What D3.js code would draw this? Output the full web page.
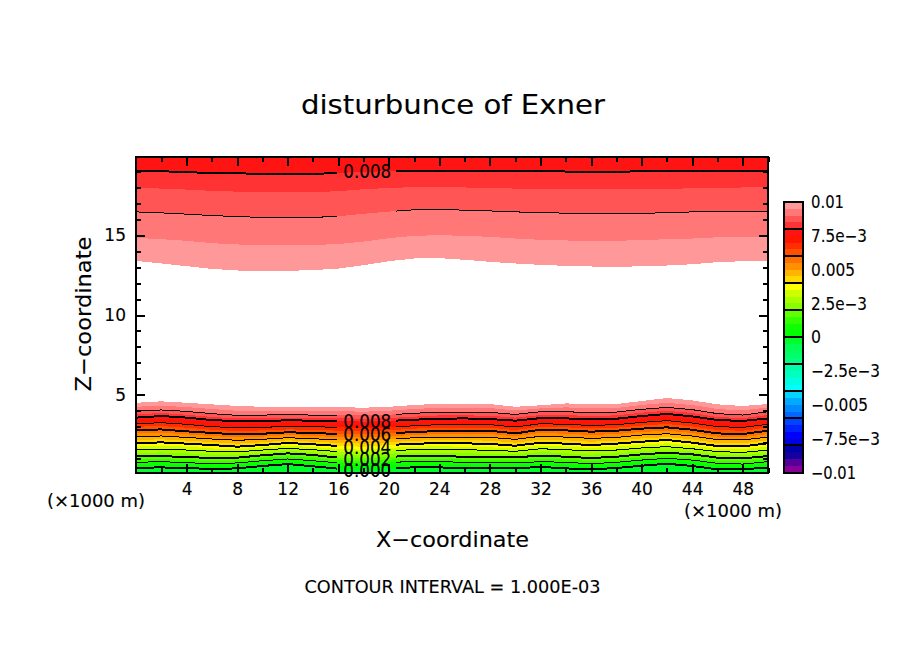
<!DOCTYPE html>
<html>
<head>
<meta charset="utf-8">
<script src="https://cdn.jsdelivr.net/npm/d3@7"></script>
<style>
  body { margin: 0; background: #fff; }
  text { font-family: "DejaVu Sans", sans-serif; fill: #000; stroke: #000; stroke-width: 0.12px; }
</style>
</head>
<body>
<div id="chart"></div>
<script>
// x positions (km) where the contours were read
const xKnots = [0,2,4,6,8,10,12,14,16,18,20,22,24,26,28,30,32,34,36,38,40,42,44,46,48,50];

// lower contours, height in km for each level, bottom to top
const low000 = [0.43,0.45,0.41,0.35,0.39,0.54,0.66,0.52,0.37,0.33,0.41,0.45,0.45,0.41,0.39,0.39,0.48,0.39,0.33,0.41,0.56,0.68,0.54,0.33,0.33,0.45];
const low005 = [0.60,0.62,0.58,0.52,0.56,0.71,0.81,0.71,0.54,0.50,0.58,0.62,0.62,0.58,0.56,0.56,0.64,0.58,0.50,0.58,0.73,0.85,0.73,0.52,0.50,0.62];
const low010 = [0.77,0.81,0.75,0.68,0.73,0.87,0.98,0.87,0.73,0.68,0.77,0.81,0.81,0.77,0.75,0.73,0.81,0.77,0.68,0.77,0.91,1.02,0.91,0.71,0.66,0.81];
const low015 = [0.96,0.98,0.91,0.85,0.89,1.04,1.14,1.04,0.89,0.85,0.94,0.98,0.98,0.94,0.91,0.89,1.00,0.94,0.85,0.94,1.08,1.19,1.08,0.87,0.83,0.98];
const low020 = [1.16,1.16,1.10,1.04,1.06,1.21,1.33,1.23,1.06,1.02,1.12,1.16,1.16,1.12,1.10,1.08,1.19,1.12,1.04,1.12,1.27,1.37,1.27,1.06,1.02,1.16];
const low025 = [1.35,1.39,1.33,1.25,1.23,1.37,1.48,1.39,1.25,1.21,1.31,1.37,1.37,1.33,1.31,1.27,1.42,1.33,1.25,1.33,1.46,1.56,1.44,1.25,1.21,1.35];
const low030 = [1.54,1.60,1.54,1.46,1.42,1.54,1.64,1.56,1.44,1.39,1.50,1.56,1.58,1.56,1.52,1.46,1.62,1.56,1.48,1.54,1.67,1.75,1.62,1.44,1.39,1.54];
const low035 = [1.75,1.81,1.75,1.64,1.58,1.71,1.81,1.73,1.60,1.56,1.67,1.75,1.77,1.75,1.71,1.64,1.81,1.75,1.67,1.75,1.87,1.96,1.81,1.60,1.58,1.75];
const low040 = [1.96,2.02,1.94,1.85,1.75,1.85,1.98,1.90,1.79,1.75,1.85,1.94,1.96,1.96,1.92,1.81,2.00,1.94,1.85,1.94,2.06,2.17,2.00,1.79,1.77,1.96];
const low045 = [2.17,2.21,2.13,2.04,1.94,2.02,2.15,2.06,1.98,1.94,2.02,2.13,2.15,2.15,2.13,2.00,2.19,2.15,2.06,2.13,2.27,2.35,2.21,1.98,1.96,2.15];
const low050 = [2.38,2.42,2.33,2.23,2.15,2.21,2.31,2.25,2.17,2.15,2.21,2.31,2.35,2.33,2.33,2.21,2.40,2.35,2.27,2.33,2.48,2.56,2.42,2.19,2.17,2.35];
const low055 = [2.58,2.63,2.52,2.42,2.33,2.38,2.48,2.42,2.35,2.33,2.40,2.48,2.54,2.52,2.54,2.40,2.61,2.56,2.48,2.54,2.67,2.75,2.61,2.38,2.35,2.54];
const low060 = [2.79,2.83,2.71,2.61,2.52,2.56,2.65,2.61,2.54,2.52,2.58,2.67,2.73,2.71,2.75,2.58,2.81,2.77,2.69,2.75,2.88,2.96,2.81,2.58,2.54,2.75];
const low065 = [3.00,3.04,2.94,2.81,2.73,2.77,2.83,2.81,2.75,2.73,2.77,2.88,2.94,2.92,2.94,2.79,3.00,2.96,2.90,2.94,3.08,3.17,3.02,2.79,2.75,2.96];
const low070 = [3.19,3.25,3.15,3.00,2.94,2.96,3.02,3.00,2.96,2.92,2.96,3.06,3.13,3.13,3.13,2.98,3.19,3.15,3.08,3.13,3.27,3.38,3.23,3.00,2.96,3.15];
const low075 = [3.38,3.46,3.36,3.21,3.13,3.17,3.21,3.19,3.17,3.13,3.17,3.25,3.32,3.32,3.32,3.19,3.38,3.34,3.29,3.32,3.46,3.59,3.44,3.21,3.17,3.34];
const low080 = [3.57,3.67,3.57,3.42,3.34,3.36,3.40,3.38,3.36,3.32,3.36,3.44,3.50,3.52,3.48,3.38,3.54,3.52,3.48,3.50,3.67,3.80,3.65,3.42,3.36,3.52];
const low085 = [3.77,3.86,3.75,3.61,3.52,3.54,3.57,3.54,3.54,3.50,3.54,3.63,3.71,3.71,3.69,3.57,3.73,3.73,3.67,3.71,3.88,4.00,3.86,3.61,3.54,3.73];
const low090 = [3.98,4.05,3.96,3.82,3.71,3.73,3.75,3.73,3.73,3.71,3.75,3.84,3.92,3.90,3.90,3.77,3.94,3.94,3.88,3.92,4.09,4.21,4.07,3.82,3.73,3.94];
const low095 = [4.25,4.32,4.23,4.11,4.00,4.00,4.00,4.00,3.98,3.94,4.00,4.11,4.19,4.15,4.17,4.02,4.15,4.21,4.15,4.17,4.36,4.50,4.36,4.11,4.02,4.21];
const low100 = [4.50,4.59,4.50,4.40,4.30,4.25,4.25,4.25,4.23,4.19,4.25,4.36,4.44,4.40,4.42,4.25,4.34,4.46,4.42,4.42,4.61,4.80,4.65,4.40,4.30,4.42];

// upper contours, values fall with height here
const up100 = [13.39,13.23,13.06,12.89,12.79,12.75,12.77,12.81,12.91,13.12,13.37,13.54,13.56,13.46,13.33,13.23,13.14,13.08,13.04,13.00,13.06,13.10,13.18,13.31,13.37,13.39];
const up095 = [14.83,14.75,14.65,14.50,14.42,14.37,14.37,14.39,14.44,14.60,14.81,14.96,15.00,14.96,14.90,14.79,14.71,14.67,14.65,14.65,14.69,14.75,14.79,14.87,14.87,14.87];
const up090 = [16.46,16.40,16.32,16.23,16.17,16.11,16.09,16.11,16.19,16.34,16.48,16.59,16.61,16.57,16.52,16.46,16.42,16.38,16.36,16.36,16.38,16.40,16.46,16.46,16.50,16.48];
const up085 = [17.99,17.92,17.86,17.78,17.73,17.69,17.69,17.69,17.76,17.88,17.96,18.01,18.03,17.99,17.96,17.92,17.90,17.88,17.88,17.88,17.88,17.90,17.94,17.96,17.99,17.99];
const up080 = [19.03,19.01,18.95,18.90,18.88,18.84,18.82,18.84,18.90,18.97,19.01,19.03,19.03,19.03,19.03,19.03,19.03,18.99,18.97,18.97,19.01,19.03,19.03,19.03,19.03,19.03];

const lowLevels = [0,0.0005,0.001,0.0015,0.002,0.0025,0.003,0.0035,0.004,0.0045,0.005,0.0055,0.006,0.0065,0.007,0.0075,0.008,0.0085,0.009,0.0095,0.01];
const lowRows = [low000,low005,low010,low015,low020,low025,low030,low035,low040,low045,low050,low055,low060,low065,low070,low075,low080,low085,low090,low095,low100];
const upLevels = [0.01,0.0095,0.009,0.0085,0.008];
const upRows = [up100,up095,up090,up085,up080];

// colour bar, from -0.01 up to 0.01
const barColors = [
  "#880099","#550099","#1400a0","#0000aa",
  "#0000e0","#0000ff","#0022ff","#0044ff",
  "#0066ff","#0088ff","#00aaff","#00d4ff",
  "#00ffff","#00ffe0","#00ffc0","#00ffaa",
  "#00ff80","#00ff66","#00ff55","#00ff2a",
  "#00ff00","#10ff00","#33ff00","#60ff00",
  "#88ff00","#a8ff00","#ccff00","#ffff00",
  "#ffd800","#ffb400","#ff9000","#ff7000",
  "#ff5000","#ff2e00","#ff1400","#ff1414",
  "#ff3333","#ff5555","#ff7777","#ff9999"
];
const barTickValues = [0.01,0.0075,0.005,0.0025,0,-0.0025,-0.005,-0.0075,-0.01];
const barTickLabels = ["0.01","7.5e−3","0.005","2.5e−3","0","−2.5e−3","−0.005","−7.5e−3","−0.01"];
const barDividers = [0.008,0.006,0.004,0.002,0,-0.002,-0.004,-0.006,-0.008];

const xMajor = [4,8,12,16,20,24,28,32,36,40,44,48];
const xMinor = [2,6,10,14,18,22,26,30,34,38,42,46,50];
const zMajor = [5,10,15];
const zMinor = [1,2,3,4,6,7,8,9,11,12,13,14,16,17,18,19];

// contour labels, [text, x in km, height in km]
const lineLabels = [
  ["0.008",18.3,19.02],
  ["0.008",18.3,3.36],
  ["0.006",18.3,2.54],
  ["0.004",18.3,1.73],
  ["0.002",18.3,0.98],
  ["0.000",18.3,0.29]
];

const W = 904, H = 654;
const plot = { left: 136, right: 768, top: 157, bottom: 473 };

const svg = d3.select("#chart").append("svg")
  .attr("width", W).attr("height", H)
  .style("display", "block");

const x = d3.scaleLinear().domain([0, 50]).range([plot.left, plot.right]);
const y = d3.scaleLinear().domain([0.1, 19.9]).range([plot.bottom, plot.top]);
const color = d3.scaleQuantize().domain([-0.01, 0.01]).range(barColors);

// clip to the frame
const defs = svg.append("defs");
defs.append("clipPath").attr("id", "frame").append("rect")
  .attr("x", plot.left).attr("y", plot.top)
  .attr("width", plot.right - plot.left).attr("height", plot.bottom - plot.top);

// lines stop either side of the label column
const gap = defs.append("clipPath").attr("id", "linegap");
gap.append("rect").attr("x", plot.left).attr("y", plot.top)
  .attr("width", 337 - plot.left).attr("height", plot.bottom - plot.top);
gap.append("rect").attr("x", 396).attr("y", plot.top)
  .attr("width", plot.right - 396).attr("height", plot.bottom - plot.top);

const fills = svg.append("g").attr("clip-path", "url(#frame)").attr("shape-rendering", "crispEdges");

function band(lo, hi, value) {
  const area = d3.area()
    .x((d, i) => x(xKnots[i]))
    .y0((d, i) => y(lo[i]))
    .y1((d, i) => y(hi[i]));
  fills.append("path").attr("d", area(xKnots)).attr("fill", color(value));
}

const floor = xKnots.map(() => 0.1);
const ceiling = xKnots.map(() => 19.9);

band(floor, low000, -0.00025);
for (let i = 0; i < lowRows.length - 1; i++) {
  band(lowRows[i], lowRows[i + 1], (lowLevels[i] + lowLevels[i + 1]) / 2);
}
for (let i = 0; i < upRows.length - 1; i++) {
  band(upRows[i], upRows[i + 1], (upLevels[i] + upLevels[i + 1]) / 2);
}
band(up080, ceiling, 0.00775);

// contour lines every 0.001, heavier every 0.002
const lines = svg.append("g")
  .attr("clip-path", "url(#linegap)")
  .attr("shape-rendering", "crispEdges")
  .attr("fill", "none")
  .attr("stroke", "#000");

const contour = d3.line().x((d, i) => x(xKnots[i])).y(d => y(d));

function drawContour(row, level) {
  const n = Math.round(level * 1000);
  if (Math.abs(level * 1000 - n) > 1e-6) return;
  lines.append("path").attr("d", contour(row)).attr("stroke-width", n % 2 === 0 ? 2 : 1);
}
lowRows.forEach((row, i) => { if (lowLevels[i] < 0.01) drawContour(row, lowLevels[i]); });
upRows.forEach((row, i) => { if (upLevels[i] < 0.01) drawContour(row, upLevels[i]); });

// contour labels
svg.append("g").selectAll("text").data(lineLabels).join("text")
  .attr("x", d => x(d[1]))
  .attr("y", d => y(d[2]))
  .attr("dy", "0.36em")
  .attr("text-anchor", "middle")
  .attr("font-size", 19)
  .attr("textLength", 48)
  .attr("lengthAdjust", "spacingAndGlyphs")
  .text(d => d[0]);

// frame and ticks
function styleAxis(g) {
  g.select(".domain").remove();
  g.selectAll("line").attr("stroke", "#000").attr("stroke-width", 2);
  g.selectAll("text").attr("font-size", 17).style("font-family", '"DejaVu Sans", sans-serif');
  g.attr("font-family", null).attr("shape-rendering", "crispEdges");
}

const pct = d3.format("d");
svg.append("g").attr("transform", `translate(0,${plot.bottom})`)
  .call(d3.axisBottom(x).tickValues(xMajor).tickFormat(pct).tickSize(-9).tickPadding(10)).call(styleAxis);
svg.append("g").attr("transform", `translate(0,${plot.bottom})`)
  .call(d3.axisBottom(x).tickValues(xMinor).tickFormat("").tickSize(-5)).call(styleAxis);
svg.append("g").attr("transform", `translate(0,${plot.top})`)
  .call(d3.axisTop(x).tickValues(xMajor).tickFormat("").tickSize(-9)).call(styleAxis);
svg.append("g").attr("transform", `translate(0,${plot.top})`)
  .call(d3.axisTop(x).tickValues(xMinor).tickFormat("").tickSize(-5)).call(styleAxis);
svg.append("g").attr("transform", `translate(${plot.left},0)`)
  .call(d3.axisLeft(y).tickValues(zMajor).tickFormat(pct).tickSize(-9).tickPadding(10)).call(styleAxis);
svg.append("g").attr("transform", `translate(${plot.left},0)`)
  .call(d3.axisLeft(y).tickValues(zMinor).tickFormat("").tickSize(-5)).call(styleAxis);
svg.append("g").attr("transform", `translate(${plot.right},0)`)
  .call(d3.axisRight(y).tickValues(zMajor).tickFormat("").tickSize(-9)).call(styleAxis);
svg.append("g").attr("transform", `translate(${plot.right},0)`)
  .call(d3.axisRight(y).tickValues(zMinor).tickFormat("").tickSize(-5)).call(styleAxis);

svg.append("rect")
  .attr("x", plot.left).attr("y", plot.top)
  .attr("width", plot.right - plot.left).attr("height", plot.bottom - plot.top)
  .attr("fill", "none").attr("stroke", "#000").attr("stroke-width", 2.5)
  .attr("shape-rendering", "crispEdges");

// colour bar
const barX = 784, barW = 19;
const barY = d3.scaleLinear().domain([-0.01, 0.01]).range([472.5, 202]);
const bar = svg.append("g").attr("shape-rendering", "crispEdges");

bar.selectAll("rect").data(barColors).join("rect")
  .attr("x", barX).attr("width", barW)
  .attr("y", d => barY(color.invertExtent(d)[1]))
  .attr("height", d => barY(color.invertExtent(d)[0]) - barY(color.invertExtent(d)[1]))
  .attr("fill", d => d);

bar.selectAll("line").data(barDividers).join("line")
  .attr("x1", barX).attr("x2", barX + barW)
  .attr("y1", d => barY(d)).attr("y2", d => barY(d))
  .attr("stroke", "#000").attr("stroke-width", 2);

bar.append("rect")
  .attr("x", barX).attr("y", barY(0.01))
  .attr("width", barW).attr("height", barY(-0.01) - barY(0.01))
  .attr("fill", "none").attr("stroke", "#000").attr("stroke-width", 2);

// label widths as measured in the reference
const barLabelWidths = [33, 56, 44, 56, 10, 69, 57, 69, 45];
svg.append("g").selectAll("text").data(barTickValues).join("text")
  .attr("x", 811)
  .attr("y", d => barY(d))
  .attr("dy", "0.36em")
  .attr("font-size", 17)
  .attr("textLength", (d, i) => barLabelWidths[i])
  .attr("lengthAdjust", "spacingAndGlyphs")
  .text((d, i) => barTickLabels[i]);

// titles
function label(str, cx, cy, size, length, rotate) {
  const t = svg.append("text")
    .attr("text-anchor", "middle")
    .attr("font-size", size)
    .attr("textLength", length)
    .attr("lengthAdjust", "spacingAndGlyphs")
    .text(str);
  if (rotate) {
    t.attr("transform", `translate(${cx},${cy}) rotate(-90)`).attr("dy", "0.36em");
  } else {
    t.attr("x", cx).attr("y", cy).attr("dy", "0.36em");
  }
}

label("disturbunce of Exner", 453, 104, 27, 304);
label("X−coordinate", 452.5, 539, 22, 153);
label("Z−coordinate", 83, 314, 22, 155, true);
label("(×1000 m)", 96, 501, 17, 98);
label("(×1000 m)", 733, 511, 17, 98);
label("CONTOUR INTERVAL = 1.000E-03", 452.5, 587, 17, 296);
</script>
</body>
</html>
